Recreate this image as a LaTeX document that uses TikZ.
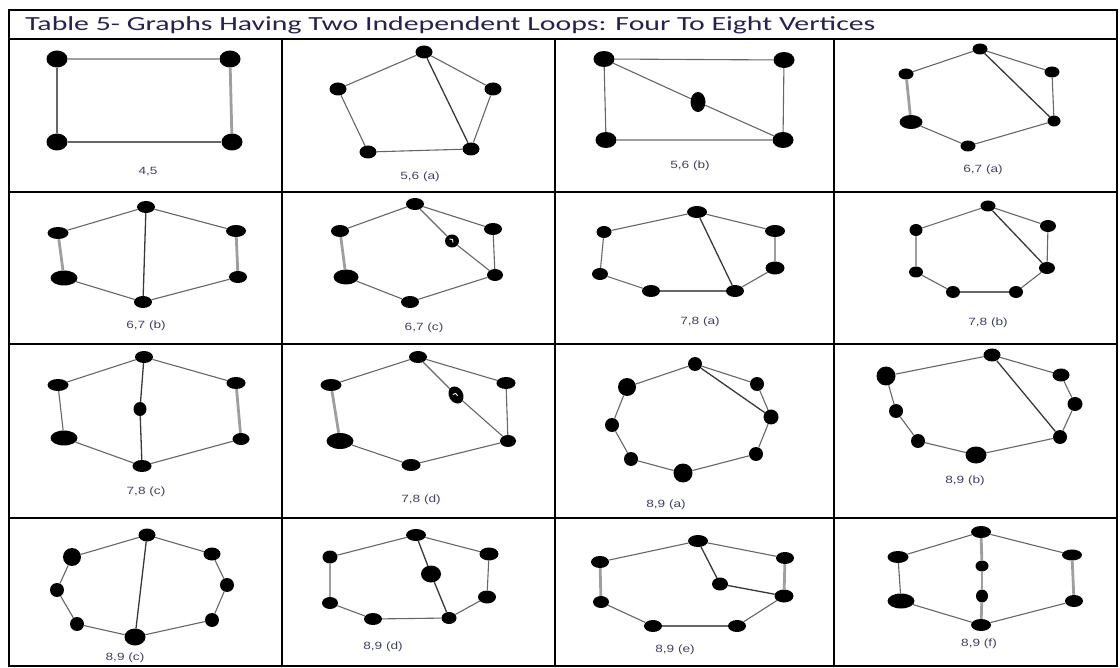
\documentclass[tikz,border=0pt]{standalone}
\usepackage{fontspec}
\usetikzlibrary{shapes.geometric}
\newfontfamily\headfont{Carlito}
\newfontfamily\lblfont{Liberation Sans}
\definecolor{headcol}{RGB}{40,32,80}
\definecolor{lblcol}{RGB}{62,64,100}
\tikzset{
  vx/.style={ellipse, fill=black, inner sep=0pt, minimum width=18pt, minimum height=12pt},
  vbig/.style={vx, minimum width=25pt, minimum height=15pt},
  vsm/.style={vx, minimum width=15pt, minimum height=11pt},
  vc/.style={circle, fill=black, inner sep=0pt, minimum size=14pt},
  vcb/.style={circle, fill=black, inner sep=0pt, minimum size=18pt},
  vmark/.style={path picture={\draw[white,line width=0.9pt] (path picture bounding box.center) ++(-2.5pt,2pt) -- ++(3pt,-0.5pt) -- ++(0.5pt,-3pt);}},
  ed/.style={draw=black!60, line width=1.1pt},
  edt/.style={draw=black!38, line width=2.8pt},
  chord/.style={draw=black!78, line width=1.3pt},
  lbl/.style={font=\lblfont\fontsize{10.5}{12}\selectfont, text=lblcol, xscale=1.3},
  gridline/.style={line width=2pt, draw=black}
}
\begin{document}
\begin{tikzpicture}[x=1pt,y=-1pt]
\useasboundingbox (0,0) rectangle (1120,668);
% table
\draw[gridline] (9,10) rectangle (1117,666);
\draw[gridline] (9,39) -- (1117,39);
\draw[gridline] (9,192) -- (1117,192);
\draw[gridline] (9,344) -- (1117,344);
\draw[gridline] (9,518) -- (1117,518);
\draw[gridline] (282,39) -- (282,666);
\draw[gridline] (555,39) -- (555,666);
\draw[gridline] (834,39) -- (834,666);
\node[anchor=west, inner sep=0pt, font=\headfont\fontsize{20}{22}\selectfont, text=headcol, xscale=1.49] (title) at (25,25) {Table 5- Graphs Having Two Independent Loops: Four To Eight Vertices};

% ---- 4,5
\node[vx, minimum width=21pt, minimum height=17pt] (a1) at (57,59) {};
\node[vx, minimum width=21pt, minimum height=17pt] (a2) at (230,59) {};
\node[vx, minimum width=21pt, minimum height=17pt] (a3) at (57,142) {};
\node[vx, minimum width=21pt, minimum height=17pt] (a4) at (232,142) {};
\draw[edt] (a1) -- (a2); \draw[edt] (a2) -- (a4);
\draw[ed] (a1) -- (a3); \draw[ed] (a3) -- (a4);
\node[lbl] (la) at (148,172) {4,5};

% ---- 5,6 (a)
\node[vx, minimum width=17pt, minimum height=13pt] (b1) at (424,52) {};
\node[vx, minimum width=17pt, minimum height=13pt] (b2) at (338,89) {};
\node[vx, minimum width=17pt, minimum height=13pt] (b3) at (493,89) {};
\node[vx, minimum width=17pt, minimum height=13pt] (b4) at (368,152) {};
\node[vx, minimum width=17pt, minimum height=13pt] (b5) at (471,149) {};
\draw[ed] (b1) -- (b2); \draw[ed] (b1) -- (b3); \draw[ed] (b2) -- (b4);
\draw[ed] (b4) -- (b5); \draw[ed] (b3) -- (b5); \draw[chord] (b1) -- (b5);
\node[lbl] (lb) at (420,177) {5,6 (a)};

% ---- 5,6 (b)
\node[vx, minimum width=21pt, minimum height=16pt] (c1) at (604,59) {};
\node[vx, minimum width=21pt, minimum height=16pt] (c2) at (784,60) {};
\node[vx, minimum width=15pt, minimum height=20pt] (c3) at (698,102) {};
\node[vx, minimum width=21pt, minimum height=16pt] (c4) at (606,140) {};
\node[vx, minimum width=21pt, minimum height=16pt] (c5) at (783,140) {};
\draw[ed] (c1) -- (c2); \draw[ed] (c1) -- (c4); \draw[ed] (c2) -- (c5);
\draw[edt] (c4) -- (c5); \draw[ed] (c1) -- (c3); \draw[ed] (c3) -- (c5);
\node[lbl] (lc) at (690,166) {5,6 (b)};

% ---- 6,7 (a)
\node[vsm] (d1) at (980,49) {};
\node[vsm] (d2) at (906,74) {};
\node[vsm] (d3) at (1052,72) {};
\node[vbig, minimum width=23pt, minimum height=14pt] (d4) at (911,122) {};
\node[vsm, minimum width=13pt] (d5) at (1054,121) {};
\node[vsm] (d6) at (968,146) {};
\draw[ed] (d1) -- (d2); \draw[ed] (d1) -- (d3); \draw[edt] (d2) -- (d4);
\draw[ed] (d4) -- (d6); \draw[ed] (d6) -- (d5); \draw[ed] (d3) -- (d5);
\draw[chord] (d1) -- (d5);
\node[lbl] (ld) at (983,170) {6,7 (a)};

% ---- 6,7 (b)
\node[vx] (e1) at (146,207) {};
\node[vx, minimum width=21pt] (e2) at (58,233) {};
\node[vx, minimum width=20pt] (e3) at (236,231) {};
\node[vbig, minimum width=27pt] (e4) at (64,278) {};
\node[vx] (e5) at (238,277) {};
\node[vx] (e6) at (143,302) {};
\draw[ed] (e1) -- (e2); \draw[ed] (e1) -- (e3); \draw[edt] (e2) -- (e4);
\draw[edt] (e3) -- (e5); \draw[ed] (e4) -- (e6); \draw[ed] (e6) -- (e5);
\draw[chord] (e1) -- (e6);
\node[lbl] (le) at (146,326) {6,7 (b)};

% ---- 6,7 (c)
\node[vx] (f1) at (415,204) {};
\node[vx] (f2) at (340,231) {};
\node[vx] (f3) at (493,229) {};
\node[vbig] (f4) at (346,277) {};
\node[vx, minimum width=16pt] (f5) at (495,275) {};
\node[vx] (f6) at (410,302) {};
\node[vx, vmark, minimum width=14pt, minimum height=13pt] (f7) at (452,241) {};
\draw[ed] (f1) -- (f2); \draw[ed] (f1) -- (f3); \draw[edt] (f2) -- (f4);
\draw[ed] (f3) -- (f5); \draw[ed] (f4) -- (f6); \draw[ed] (f6) -- (f5);
\draw[ed] (f1) -- (f7); \draw[ed] (f7) -- (f5);
\node[lbl] (lf) at (424,328) {6,7 (c)};

% ---- 7,8 (a)
\node[vx, minimum width=20pt] (g1) at (697,212) {};
\node[vx, minimum width=15pt] (g2) at (604,232) {};
\node[vx, minimum width=20pt] (g3) at (775,231) {};
\node[vx, minimum width=16pt] (g4) at (600,274) {};
\node[vx, minimum width=19pt, minimum height=13pt] (g5) at (775,268) {};
\node[vx] (g6) at (651,291) {};
\node[vx] (g7) at (735,291) {};
\draw[ed] (g1) -- (g2); \draw[ed] (g1) -- (g3); \draw[ed] (g2) -- (g4);
\draw[edt] (g3) -- (g5); \draw[ed] (g4) -- (g6); \draw[ed] (g6) -- (g7);
\draw[ed] (g7) -- (g5); \draw[chord] (g1) -- (g7);
\node[lbl] (lg) at (700,322) {7,8 (a)};

% ---- 7,8 (b)
\node[vsm] (h1) at (988,206) {};
\node[vsm, minimum width=13pt, minimum height=12pt] (h2) at (916,230) {};
\node[vsm, minimum width=16pt, minimum height=12pt] (h3) at (1048,226) {};
\node[vsm, minimum width=14pt] (h4) at (916,272) {};
\node[vsm, minimum width=16pt, minimum height=12pt] (h5) at (1047,268) {};
\node[vsm, minimum width=14pt, minimum height=12pt] (h6) at (953,292) {};
\node[vsm, minimum width=14pt, minimum height=12pt] (h7) at (1016,292) {};
\draw[ed] (h1) -- (h2); \draw[ed] (h1) -- (h3); \draw[edt] (h2) -- (h4);
\draw[ed] (h3) -- (h5); \draw[ed] (h4) -- (h6); \draw[ed] (h6) -- (h7);
\draw[ed] (h7) -- (h5); \draw[chord] (h1) -- (h5);
\node[lbl] (lh) at (988,323) {7,8 (b)};

% ---- 7,8 (c)
\node[vx] (i1) at (144,357) {};
\node[vx, minimum width=21pt] (i2) at (58,385) {};
\node[vx, minimum width=19pt] (i3) at (236,383) {};
\node[vx, minimum width=13pt, minimum height=14pt] (i4) at (140,409) {};
\node[vbig, minimum width=27pt] (i5) at (64,438) {};
\node[vx, minimum width=17pt] (i6) at (241,439) {};
\node[vx, minimum width=19pt] (i7) at (142,466) {};
\draw[ed] (i1) -- (i2); \draw[ed] (i1) -- (i3); \draw[ed] (i2) -- (i5);
\draw[edt] (i3) -- (i6); \draw[ed] (i5) -- (i7); \draw[ed] (i7) -- (i6);
\draw[chord] (i1) -- (i4); \draw[chord] (i4) -- (i7);
\node[lbl] (li) at (146,492) {7,8 (c)};

% ---- 7,8 (d)
\node[vx] (j1) at (418,357) {};
\node[vx, minimum width=21pt] (j2) at (331,385) {};
\node[vx, minimum width=19pt] (j3) at (506,383) {};
\node[vx, vmark, minimum width=14pt, minimum height=18pt, rotate=30] (j4) at (456,395) {};
\node[vbig, minimum width=27pt, minimum height=16pt] (j5) at (340,441) {};
\node[vx, minimum width=16pt] (j6) at (508,441) {};
\node[vx, minimum width=19pt] (j7) at (411,465) {};
\draw[ed] (j1) -- (j2); \draw[ed] (j1) -- (j3); \draw[edt] (j2) -- (j5);
\draw[ed] (j3) -- (j6); \draw[ed] (j5) -- (j7); \draw[ed] (j7) -- (j6);
\draw[ed] (j1) -- (j4); \draw[ed] (j4) -- (j6);
\node[lbl] (lj) at (421,500) {7,8 (d)};

% ---- 8,9 (a)
\node[vc] (k1) at (695,364) {};
\node[vcb] (k2) at (627,387) {};
\node[vc] (k3) at (757,384) {};
\node[vc] (k4) at (612,425) {};
\node[vc, minimum size=15pt] (k5) at (771,417) {};
\node[vc] (k6) at (631,459) {};
\node[vc] (k7) at (756,454) {};
\node[vcb, minimum size=19pt] (k8) at (683,473) {};
\draw[ed] (k1) -- (k2); \draw[ed] (k2) -- (k4); \draw[ed] (k4) -- (k6);
\draw[ed] (k6) -- (k8); \draw[ed] (k8) -- (k7); \draw[ed] (k7) -- (k5);
\draw[ed] (k5) -- (k3); \draw[ed] (k3) -- (k1); \draw[chord] (k1) -- (k5);
\node[lbl] (lk) at (666,505) {8,9 (a)};

% ---- 8,9 (b)
\node[vx, minimum width=17pt, minimum height=13pt] (l1) at (992,355) {};
\node[vcb, minimum size=19pt] (l2) at (886,376) {};
\node[vx, minimum width=17pt, minimum height=13pt] (l3) at (1061,375) {};
\node[vc] (l4) at (896,411) {};
\node[vx, minimum width=15pt, minimum height=14pt] (l5) at (1075,404) {};
\node[vc] (l6) at (918,441) {};
\node[vc] (l7) at (1060,437) {};
\node[vx, minimum width=21pt, minimum height=17pt] (l8) at (976,455) {};
\draw[ed] (l1) -- (l2); \draw[ed] (l2) -- (l4); \draw[ed] (l4) -- (l6);
\draw[ed] (l6) -- (l8); \draw[ed] (l8) -- (l7); \draw[ed] (l7) -- (l5);
\draw[ed] (l5) -- (l3); \draw[ed] (l3) -- (l1); \draw[chord] (l1) -- (l7);
\node[lbl] (ll) at (965,481) {8,9 (b)};

% ---- 8,9 (c)
\node[vx, minimum width=17pt, minimum height=13pt] (m1) at (147,535) {};
\node[vcb] (m2) at (72,557) {};
\node[vx, minimum width=17pt, minimum height=13pt] (m3) at (212,554) {};
\node[vc] (m4) at (57,590) {};
\node[vc] (m5) at (227,585) {};
\node[vc] (m6) at (77,624) {};
\node[vc] (m7) at (212,620) {};
\node[vx, minimum width=21pt, minimum height=17pt] (m8) at (135,637) {};
\draw[ed] (m1) -- (m2); \draw[ed] (m2) -- (m4); \draw[ed] (m4) -- (m6);
\draw[ed] (m6) -- (m8); \draw[ed] (m8) -- (m7); \draw[ed] (m7) -- (m5);
\draw[ed] (m5) -- (m3); \draw[ed] (m3) -- (m1); \draw[chord] (m1) -- (m8);
\node[lbl] (lm) at (125,658) {8,9 (c)};

% ---- 8,9 (d)
\node[vx, minimum width=20pt] (n1) at (416,535) {};
\node[vx, minimum width=15pt, minimum height=13pt] (n2) at (330,557) {};
\node[vx, minimum width=19pt, minimum height=13pt] (n3) at (489,554) {};
\node[vx, minimum width=20pt, minimum height=17pt] (n4) at (431,574) {};
\node[vx, minimum width=16pt] (n5) at (330,603) {};
\node[vx, minimum width=18pt, minimum height=13pt] (n6) at (487,597) {};
\node[vx] (n7) at (373,619) {};
\node[vx, minimum width=15pt] (n8) at (449,618) {};
\draw[ed] (n1) -- (n2); \draw[ed] (n1) -- (n3); \draw[edt] (n2) -- (n5);
\draw[ed] (n3) -- (n6); \draw[ed] (n5) -- (n7); \draw[ed] (n7) -- (n8);
\draw[ed] (n8) -- (n6); \draw[chord] (n1) -- (n4); \draw[chord] (n4) -- (n8);
\node[lbl] (ln) at (383,647) {8,9 (d)};

% ---- 8,9 (e)
\node[vx, minimum width=20pt] (o1) at (698,541) {};
\node[vx] (o2) at (600,562) {};
\node[vx] (o3) at (785,558) {};
\node[vx, minimum width=16pt, minimum height=13pt] (o4) at (720,584) {};
\node[vx, minimum width=16pt] (o5) at (601,602) {};
\node[vx, minimum width=19pt, minimum height=13pt] (o6) at (784,596) {};
\node[vx] (o7) at (653,626) {};
\node[vx] (o8) at (737,626) {};
\draw[ed] (o1) -- (o2); \draw[ed] (o1) -- (o3); \draw[edt] (o2) -- (o5);
\draw[edt] (o3) -- (o6); \draw[ed] (o5) -- (o7); \draw[ed] (o7) -- (o8);
\draw[ed] (o8) -- (o6); \draw[chord] (o1) -- (o4); \draw[chord] (o4) -- (o6);
\node[lbl] (lo) at (675,650) {8,9 (e)};

% ---- 8,9 (f)
\node[vx, minimum width=20pt] (p1) at (981,532) {};
\node[vx, minimum width=21pt] (p2) at (898,557) {};
\node[vx, minimum width=20pt, minimum height=11pt] (p3) at (1072,555) {};
\node[vx, minimum width=13pt, minimum height=11pt] (p4) at (982,566) {};
\node[vx, minimum width=12pt, minimum height=13pt] (p5) at (982,596) {};
\node[vbig, minimum width=27pt] (p6) at (901,601) {};
\node[vx] (p7) at (1074,601) {};
\node[vx, minimum width=20pt] (p8) at (981,625) {};
\draw[ed] (p1) -- (p2); \draw[ed] (p1) -- (p3); \draw[ed] (p2) -- (p6);
\draw[edt] (p3) -- (p7); \draw[ed] (p6) -- (p8); \draw[ed] (p8) -- (p7);
\draw[edt] (p1) -- (p4); \draw[edt] (p4) -- (p5); \draw[edt] (p5) -- (p8);
\node[lbl] (lp) at (979,644) {8,9 (f)};
\end{tikzpicture}
\end{document}
